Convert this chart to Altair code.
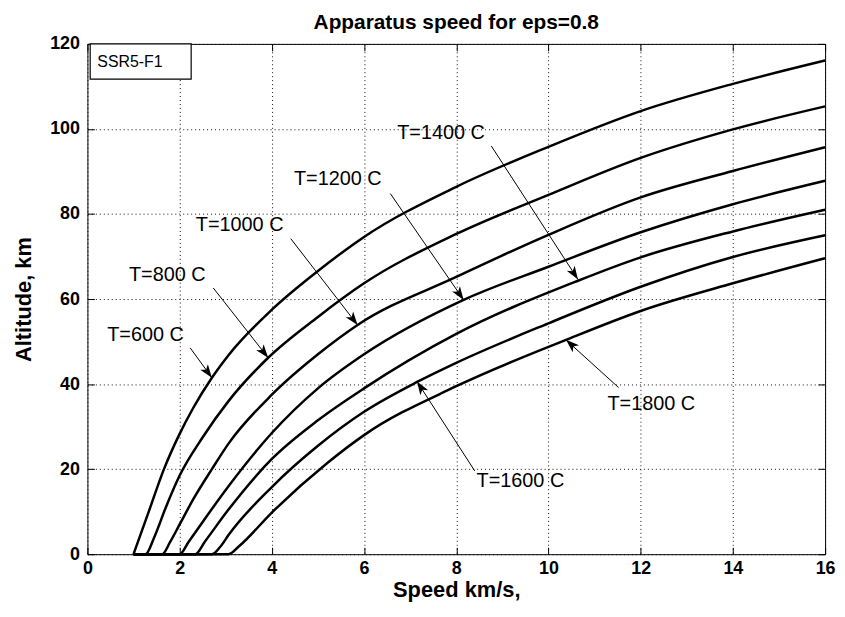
import math
import altair as alt
import pandas as pd

# ---------------- data ----------------
series_names = ["T=600 C", "T=800 C", "T=1000 C", "T=1200 C", "T=1400 C", "T=1600 C", "T=1800 C"]

t600_x = [1.0, 1.33, 1.66, 2.0, 2.3, 2.7, 3.06, 4.0, 5.0, 6.0, 8.0, 10.0, 12.0, 14.0, 16.0]
t600_y = [0, 10, 20, 28.3, 34.5, 41.5, 46.8, 57.5, 66.6, 74.6, 86.4, 95.8, 104.2, 110.6, 116.1]

t800_x = [1.0, 1.26, 1.45, 1.7, 2.0, 2.5, 3.06, 3.92, 5.0, 6.0, 8.0, 10.0, 12.0, 14.0, 16.0]
t800_y = [0, 0, 4, 11, 18.5, 27.5, 36, 46.2, 55.8, 63.7, 75.3, 84.5, 93.2, 99.9, 105.3]

t1000_x = [1.0, 1.62, 1.8, 2.0, 2.3, 2.7, 3.06, 4.0, 5.0, 5.86, 8.0, 10.0, 12.0, 14.0, 16.0]
t1000_y = [0, 0, 3, 7, 13, 20, 26, 37.5, 47, 53.9, 65.2, 75.1, 83.9, 90.1, 95.7]

t1200_x = [1.0, 2.0, 2.2, 3.06, 4.0, 5.0, 6.0, 8.16, 10.0, 12.0, 14.0, 16.0]
t1200_y = [0, 0, 3, 16, 28.5, 39, 47, 59.8, 67.6, 75.7, 82.3, 87.8]

t1400_x = [1.0, 2.34, 2.55, 3.06, 4.0, 5.0, 6.0, 8.0, 10.64, 12.0, 14.0, 16.0]
t1400_y = [0, 0, 3, 10.5, 22.4, 31.5, 39, 51.8, 64.3, 69.8, 75.9, 81.0]

t1600_x = [1.0, 2.7, 2.9, 3.06, 4.0, 5.0, 6.0, 7.15, 8.0, 10.0, 12.0, 14.0, 16.0]
t1600_y = [0, 0, 2, 4.5, 15.8, 25.5, 33.5, 40.5, 45, 54.3, 62.9, 69.9, 75.0]

t1800_x = [1.0, 3.06, 3.3, 4.0, 5.21, 6.0, 8.0, 10.38, 12.0, 14.0, 16.0]
t1800_y = [0, 0, 2, 9.8, 21.5, 28, 39.5, 50.4, 57.2, 63.7, 69.6]

# annotation labels (left edge x, middle y) and arrows (start -> tip), in data units
label_x = [0.43, 0.90, 2.35, 4.48, 6.72, 8.44, 11.28]
label_y = [51.5, 65.6, 77.3, 88.3, 99.0, 17.3, 35.3]
arrow_x0 = [2.23, 2.73, 4.41, 6.57, 8.76, 8.40, 11.52]
arrow_y0 = [48.5, 62.6, 74.2, 84.8, 96.0, 19.6, 39.2]
arrow_x1 = [2.70, 3.92, 5.86, 8.16, 10.64, 7.15, 10.38]
arrow_y1 = [41.5, 46.2, 53.9, 59.8, 64.6, 40.6, 50.4]

x_ticks = [0, 2, 4, 6, 8, 10, 12, 14, 16]
y_ticks = [0, 20, 40, 60, 80, 100, 120]

legend_text = "SSR5-F1"
legend_box_x = [0.06, 2.25]
legend_box_y = [111.7, 120.0]

# ---------------- tables ----------------
curves = [t600_x, t800_x, t1000_x, t1200_x, t1400_x, t1600_x, t1800_x]
curves_y = [t600_y, t800_y, t1000_y, t1200_y, t1400_y, t1600_y, t1800_y]
rows = []
for name, xs, ys in zip(series_names, curves, curves_y):
    for xv, yv in zip(xs, ys):
        rows.append({"series": name, "speed": xv, "alt": yv})
df = pd.DataFrame(rows)

W, H = 743, 514
XMAX, YMAX = 16.0, 120.0

ang = []
for a, b, c, d in zip(arrow_x0, arrow_y0, arrow_x1, arrow_y1):
    dx = (c - a) * W / XMAX
    dy = -(d - b) * H / YMAX
    ang.append(math.degrees(math.atan2(dx, -dy)) % 360)

labels_df = pd.DataFrame({"text": series_names, "x": label_x, "y": label_y})
arrows_df = pd.DataFrame({"x0": arrow_x0, "y0": arrow_y0, "x1": arrow_x1,
                          "y1": arrow_y1, "ang": ang})
box_df = pd.DataFrame({"x": [legend_box_x[0]], "x2": [legend_box_x[1]],
                       "y": [legend_box_y[0]], "y2": [legend_box_y[1]],
                       "tx": [0.215], "ty": [115.7], "text": [legend_text]})

FONT = "Liberation Sans"
xscale = alt.Scale(domain=[0, XMAX], nice=False, zero=False)
yscale = alt.Scale(domain=[0, YMAX], nice=False, zero=False)

grid_kw = dict(grid=True, gridColor="#111", gridDash=[1, 3], gridWidth=1, gridOpacity=1)

main_x_axis = alt.Axis(title="Speed km/s,", values=x_ticks, ticks=False, domain=False,
                       labelFont=FONT, labelFontSize=18, labelFontWeight="bold",
                       labelColor="black", labelPadding=5, labelFlush=False,
                       titleFont=FONT, titleFontSize=22, titleFontWeight="bold",
                       titleColor="black", titlePadding=3, format="d", **grid_kw)
main_y_axis = alt.Axis(title="Altitude, km", values=y_ticks, ticks=False, domain=False,
                       labelFont=FONT, labelFontSize=18, labelFontWeight="bold",
                       labelColor="black", labelPadding=8, labelFlush=False,
                       titleFont=FONT, titleFontSize=22, titleFontWeight="bold",
                       titleColor="black", titlePadding=14, format="d", **grid_kw)

lines = alt.Chart(df).mark_line(color="black", strokeWidth=2.5, interpolate="monotone").encode(
    x=alt.X("speed:Q", scale=xscale, axis=main_x_axis),
    y=alt.Y("alt:Q", scale=yscale, axis=main_y_axis),
    detail="series:N",
)


def tick_axis(orient):
    return alt.Axis(orient=orient, offset=-7, tickSize=7, tickColor="black", tickWidth=1,
                    labels=False, domain=False, grid=False, title=None,
                    values=(x_ticks if orient in ("bottom", "top") else y_ticks))


ticks_bl = alt.Chart(df).mark_point(opacity=0).encode(
    x=alt.X("speed:Q", scale=xscale, axis=tick_axis("bottom")),
    y=alt.Y("alt:Q", scale=yscale, axis=tick_axis("left")),
)
ticks_tr = alt.Chart(df).mark_point(opacity=0).encode(
    x=alt.X("speed:Q", scale=xscale, axis=tick_axis("top")),
    y=alt.Y("alt:Q", scale=yscale, axis=tick_axis("right")),
)

arrow_lines = alt.Chart(arrows_df).mark_rule(color="black", strokeWidth=1).encode(
    x=alt.X("x0:Q", axis=None), y=alt.Y("y0:Q", axis=None), x2="x1:Q", y2="y1:Q")

head_path = "M0,0 L0.6,1.7 L0,1.25 L-0.6,1.7 Z"
arrow_heads = alt.Chart(arrows_df).mark_point(shape=head_path, filled=True, size=250,
                                              color="black", opacity=1, strokeWidth=0).encode(
    x=alt.X("x1:Q", axis=None), y=alt.Y("y1:Q", axis=None),
    angle=alt.Angle("ang:Q", scale=None))

label_text = alt.Chart(labels_df).mark_text(align="left", baseline="middle", font=FONT,
                                            fontSize=20, color="black").encode(
    x=alt.X("x:Q", axis=None), y=alt.Y("y:Q", axis=None), text="text:N")

box = alt.Chart(box_df).mark_rect(fill="white", stroke="black", strokeWidth=1.2).encode(
    x=alt.X("x:Q", axis=None), x2="x2:Q", y=alt.Y("y:Q", axis=None), y2="y2:Q")
box_text = alt.Chart(box_df).mark_text(align="left", baseline="middle", font=FONT,
                                       fontSize=16, color="black").encode(
    x=alt.X("tx:Q", axis=None), y=alt.Y("ty:Q", axis=None), text="text:N")

chart = alt.layer(lines, ticks_bl, ticks_tr, arrow_lines, arrow_heads, label_text,
                  box, box_text).resolve_axis(x="independent", y="independent").properties(
    width=W, height=H,
    autosize=alt.AutoSizeParams(type="none"),
    padding={"left": 80, "top": 34, "right": 12, "bottom": 48},
    title=alt.TitleParams("Apparatus speed for eps=0.8", font=FONT, fontSize=21,
                          fontWeight="bold", color="black", anchor="middle",
                          frame="group", baseline="alphabetic", offset=-15),
    background="white",
).configure_view(stroke="black", strokeWidth=1)

chart.save("out.html", embed_options={"renderer": "svg", "actions": False})
